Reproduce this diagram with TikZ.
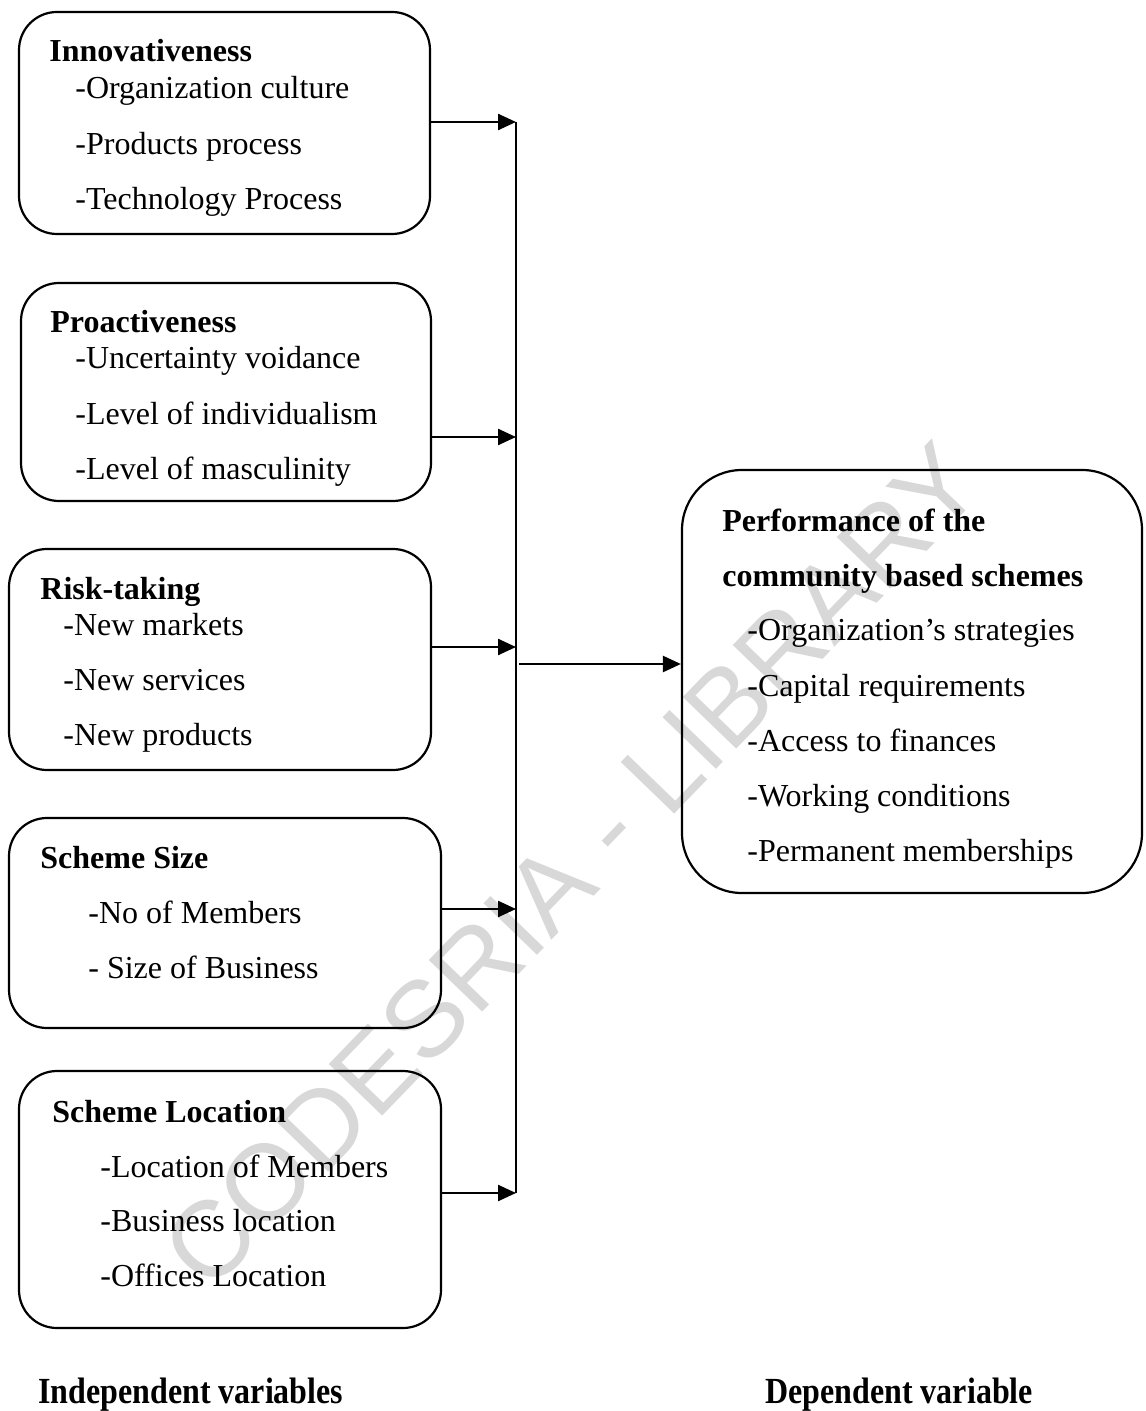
\documentclass[tikz,border=0pt]{standalone}
\usepackage{fontspec}
\setmainfont{Liberation Serif}
\newfontfamily\wmfont{Liberation Sans}
\usetikzlibrary{arrows.meta,fit}
\definecolor{wmgray}{RGB}{216,216,216}
\begin{document}
\begin{tikzpicture}[x=0.5pt,y=-0.5pt,
  box/.style={draw, line width=1.1pt, rounded corners=19pt, inner sep=0pt},
  bigbox/.style={draw, line width=1.1pt, rounded corners=30pt, inner sep=0pt},
  txt/.style={anchor=base west, inner sep=0pt, font=\fontsize{16pt}{19pt}\selectfont},
  ttl/.style={txt, font=\fontsize{16pt}{19pt}\selectfont\bfseries},
  arr/.style={line width=1.2pt, -{Triangle[length=9pt,width=8pt]}},
  bus/.style={line width=1.2pt}]
\useasboundingbox (0,0) rectangle (1145,1411);
\fill[white] (0,0) rectangle (1145,1411);

% watermark
\node[wmgray, rotate=46, inner sep=0pt, font=\wmfont\fontsize{54pt}{54pt}\selectfont] (wm) at (572,866) {CODESRIA - LIBRARY};

% boxes
\node[box, fit={(19,12) (430,234)}] (b1) {};
\node[box, fit={(21,283) (431,501)}] (b2) {};
\node[box, fit={(9,549) (431,770)}] (b3) {};
\node[box, fit={(9,818) (441,1028)}] (b4) {};
\node[box, fit={(19,1071) (441,1328)}] (b5) {};
\node[bigbox, fit={(682,470) (1142,893)}] (b6) {};

% box 1
\node[ttl] (t1) at (49,62) {Innovativeness};
\node[txt] (t1a) at (75,99) {-Organization culture};
\node[txt] (t1b) at (75,155) {-Products process};
\node[txt] (t1c) at (75,210) {-Technology Process};
% box 2
\node[ttl] (t2) at (50,333) {Proactiveness};
\node[txt] (t2a) at (75,369) {-Uncertainty voidance};
\node[txt] (t2b) at (75,424) {-Level of individualism};
\node[txt] (t2c) at (75,479) {-Level of masculinity};
% box 3
\node[ttl] (t3) at (40,599) {Risk-taking};
\node[txt] (t3a) at (63,635) {-New markets};
\node[txt] (t3b) at (63,690) {-New services};
\node[txt] (t3c) at (63,745) {-New products};
% box 4
\node[ttl] (t4) at (40,868) {Scheme Size};
\node[txt] (t4a) at (88,923) {-No of Members};
\node[txt] (t4b) at (88,978) {- Size of Business};
% box 5
\node[ttl] (t5) at (52,1122) {Scheme Location};
\node[txt] (t5a) at (100,1177) {-Location of Members};
\node[txt] (t5b) at (100,1231) {-Business location};
\node[txt] (t5c) at (100,1286) {-Offices Location};
% box 6
\node[ttl] (t6) at (722,531) {Performance of the};
\node[ttl] (t6b) at (722,586) {community based schemes};
\node[txt] (t6c) at (747,640) {-Organization’s strategies};
\node[txt] (t6d) at (747,696) {-Capital requirements};
\node[txt] (t6e) at (747,751) {-Access to finances};
\node[txt] (t6f) at (747,806) {-Working conditions};
\node[txt] (t6g) at (747,861) {-Permanent memberships};

% bottom labels
\node[ttl] (l1) at (38,1403) {\scalebox{1}[1.15]{Independent variables}};
\node[ttl] (l2) at (765,1403) {\scalebox{1}[1.15]{Dependent variable}};

% connectors
\coordinate (j1) at (516,122);
\coordinate (j2) at (516,437);
\coordinate (j3) at (516,647);
\coordinate (j4) at (516,909);
\coordinate (j5) at (516,1193);
\coordinate (jo) at (519,664);
\draw[bus] (j1) -- (j5);
\draw[arr] (b1.east |- j1) -- (j1);
\draw[arr] (b2.east |- j2) -- (j2);
\draw[arr] (b3.east |- j3) -- (j3);
\draw[arr] (b4.east |- j4) -- (j4);
\draw[arr] (b5.east |- j5) -- (j5);
\draw[arr] (jo) -- (b6.west |- jo);
\end{tikzpicture}
\end{document}
